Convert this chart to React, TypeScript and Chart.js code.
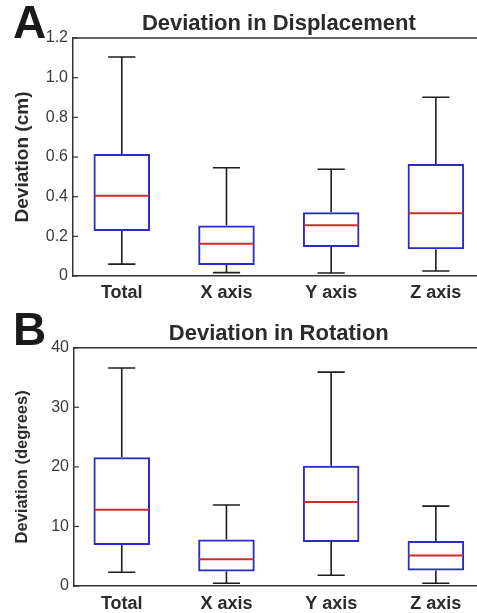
import React, { useEffect, useRef } from "react";
import { Chart, registerables } from "chart.js";

Chart.register(...registerables);

const categories = ["Total", "X axis", "Y axis", "Z axis"];

// Panel A: Deviation in Displacement (cm)
const dispWhiskerLow = [0.06, 0.017, 0.015, 0.025];
const dispQ1 = [0.227, 0.055, 0.146, 0.135];
const dispMedian = [0.405, 0.163, 0.256, 0.316];
const dispQ3 = [0.615, 0.254, 0.321, 0.565];
const dispWhiskerHigh = [1.104, 0.546, 0.538, 0.901];
const dispTicks = [0, 0.2, 0.4, 0.6, 0.8, 1.0, 1.2];

// Panel B: Deviation in Rotation (degrees)
const rotWhiskerLow = [2.3, 0.45, 1.8, 0.45];
const rotQ1 = [6.9, 2.45, 7.4, 2.6];
const rotMedian = [12.8, 4.5, 14.1, 5.1];
const rotQ3 = [21.6, 7.8, 20.2, 7.55];
const rotWhiskerHigh = [36.6, 13.6, 35.9, 13.4];
const rotTicks = [0, 10, 20, 30, 40];

const FONT = '"Liberation Sans", Arial, sans-serif';
const TEXT = "#2b2b2b";
const AXIS = "#333333";
const BOX_BLUE = "#2b2bc8";
const MEDIAN_RED = "#d42a2a";
const WHISKER = "#1e1e1e";

type PanelProps = {
  letter: string;
  title: string;
  yTitle: string;
  yTitleSize: number;
  yTitlePad: number;
  wl: number[];
  q1: number[];
  med: number[];
  q3: number[];
  wh: number[];
  ticks: number[];
  decimals: number;
  height: number;
  padTop: number;
  axisHeight: number;
  axisLeft: number;
  labelPad: number;
  xMin: number;
  xMax: number;
  letterBase: number;
  titleBase: number;
  top: number;
};

function Panel(p: PanelProps) {
  const ref = useRef<HTMLCanvasElement | null>(null);
  useEffect(() => {
    if (!ref.current) return;
    const capHalf = 0.13;
    const decor = {
      id: "boxDecor",
      beforeDatasetsDraw(chart: any) {
        const { ctx, scales } = chart;
        const x = scales.x;
        const y = scales.y;
        ctx.save();
        ctx.strokeStyle = WHISKER;
        ctx.lineWidth = 1.6;
        for (let i = 0; i < categories.length; i++) {
          const cx = x.getPixelForValue(i + 1);
          const l = x.getPixelForValue(i + 1 - capHalf);
          const r = x.getPixelForValue(i + 1 + capHalf);
          ctx.beginPath();
          ctx.moveTo(cx, y.getPixelForValue(p.wl[i]));
          ctx.lineTo(cx, y.getPixelForValue(p.q1[i]));
          ctx.moveTo(cx, y.getPixelForValue(p.q3[i]));
          ctx.lineTo(cx, y.getPixelForValue(p.wh[i]));
          ctx.moveTo(l, y.getPixelForValue(p.wl[i]));
          ctx.lineTo(r, y.getPixelForValue(p.wl[i]));
          ctx.moveTo(l, y.getPixelForValue(p.wh[i]));
          ctx.lineTo(r, y.getPixelForValue(p.wh[i]));
          ctx.stroke();
        }
        ctx.restore();
      },
      afterDatasetsDraw(chart: any) {
        const { ctx, scales } = chart;
        const x = scales.x;
        const y = scales.y;
        const half = 0.27;
        ctx.save();
        ctx.strokeStyle = MEDIAN_RED;
        ctx.lineWidth = 2;
        for (let i = 0; i < categories.length; i++) {
          const yy = y.getPixelForValue(p.med[i]);
          ctx.beginPath();
          ctx.moveTo(x.getPixelForValue(i + 1 - half) + 1, yy);
          ctx.lineTo(x.getPixelForValue(i + 1 + half) - 1, yy);
          ctx.stroke();
        }
        ctx.restore();
      },
      afterDraw(chart: any) {
        const { ctx, chartArea, scales } = chart;
        const x = scales.x;
        const y = scales.y;
        ctx.save();
        ctx.strokeStyle = AXIS;
        ctx.lineWidth = 1.5;
        ctx.beginPath();
        ctx.moveTo(chartArea.left, chartArea.top);
        ctx.lineTo(chartArea.right, chartArea.top);
        ctx.stroke();
        ctx.lineWidth = 1.2;
        for (const t of p.ticks) {
          const yy = y.getPixelForValue(t);
          ctx.beginPath();
          ctx.moveTo(chartArea.left, yy);
          ctx.lineTo(chartArea.left + 5, yy);
          ctx.stroke();
        }
        ctx.fillStyle = "#1a1a1a";
        ctx.font = `bold 46px ${FONT}`;
        ctx.textAlign = "left";
        ctx.textBaseline = "alphabetic";
        ctx.fillText(p.letter, 13, p.letterBase);
        ctx.fillStyle = TEXT;
        ctx.font = `bold 22px ${FONT}`;
        ctx.textAlign = "center";
        ctx.fillText(p.title, x.getPixelForValue(2.5), p.titleBase);
        ctx.restore();
      },
    };

    const chart = new Chart(ref.current, {
      type: "bar",
      data: {
        datasets: [
          {
            data: categories.map((_, i) => ({ x: i + 1, y: [p.q1[i], p.q3[i]] })) as any,
            backgroundColor: "rgba(255,255,255,0)",
            borderColor: BOX_BLUE,
            borderWidth: 2,
            borderSkipped: false,
            barPercentage: 0.54,
            categoryPercentage: 1,
          },
        ],
      },
      options: {
        responsive: false,
        animation: false,
        events: [],
        layout: { padding: { top: p.padTop, left: 0, right: 0, bottom: 0 } },
        plugins: {
          legend: { display: false },
          tooltip: { enabled: false },
          title: { display: false },
        },
        scales: {
          x: {
            type: "linear",
            offset: false,
            min: p.xMin,
            max: p.xMax,
            grid: { display: false, drawTicks: false, offset: false },
            border: { display: true, color: AXIS, width: 1.5 },
            afterBuildTicks: (axis: any) => {
              axis.ticks = categories.map((_, i) => ({ value: i + 1 }));
            },
            afterFit: (scale: any) => {
              scale.height = p.axisHeight;
            },
            ticks: {
              autoSkip: false,
              maxRotation: 0,
              padding: p.labelPad,
              color: TEXT,
              font: { family: FONT, size: 18, weight: "bold" },
              callback: (v: any) => categories[Math.round(Number(v)) - 1] ?? "",
            },
          },
          y: {
            type: "linear",
            min: p.ticks[0],
            max: p.ticks[p.ticks.length - 1],
            grid: { display: false, drawTicks: false },
            border: { display: true, color: AXIS, width: 1.5 },
            afterBuildTicks: (axis: any) => {
              axis.ticks = p.ticks.map((v) => ({ value: v }));
            },
            afterFit: (scale: any) => {
              scale.width = p.axisLeft;
            },
            ticks: {
              padding: 5,
              color: "#3a3a3a",
              font: { family: FONT, size: 16 },
              callback: (v: any) => (Number(v) === 0 ? "0" : Number(v).toFixed(p.decimals)),
            },
            title: {
              display: true,
              text: p.yTitle,
              color: TEXT,
              font: { family: FONT, size: p.yTitleSize, weight: "bold" },
              padding: { top: p.yTitlePad, bottom: 0 },
            },
          },
        },
      } as any,
      plugins: [decor],
    });
    return () => chart.destroy();
  }, []);
  return (
    <canvas
      ref={ref}
      width={477}
      height={p.height}
      style={{ position: "absolute", left: 0, top: p.top, display: "block" }}
    />
  );
}

export default function App() {
  return (
    <div style={{ position: "absolute", left: 0, top: 0, width: 477, height: 613, background: "#fff", overflow: "hidden" }}>
      <Panel
        letter="A"
        title="Deviation in Displacement"
        yTitle="Deviation (cm)"
        yTitleSize={19}
        yTitlePad={11}
        wl={dispWhiskerLow}
        q1={dispQ1}
        med={dispMedian}
        q3={dispQ3}
        wh={dispWhiskerHigh}
        ticks={dispTicks}
        decimals={1}
        height={300}
        padTop={38}
        axisHeight={24}
        axisLeft={73}
        labelPad={6}
        xMin={0.534}
        xMax={4.393}
        letterBase={38}
        titleBase={30}
        top={0}
      />
      <Panel
        letter="B"
        title="Deviation in Rotation"
        yTitle="Deviation (degrees)"
        yTitleSize={16.5}
        yTitlePad={13}
        wl={rotWhiskerLow}
        q1={rotQ1}
        med={rotMedian}
        q3={rotQ3}
        wh={rotWhiskerHigh}
        ticks={rotTicks}
        decimals={0}
        height={313}
        padTop={47.7}
        axisHeight={27}
        axisLeft={74}
        labelPad={7}
        xMin={0.544}
        xMax={4.393}
        letterBase={45}
        titleBase={39.5}
        top={300}
      />
    </div>
  );
}
